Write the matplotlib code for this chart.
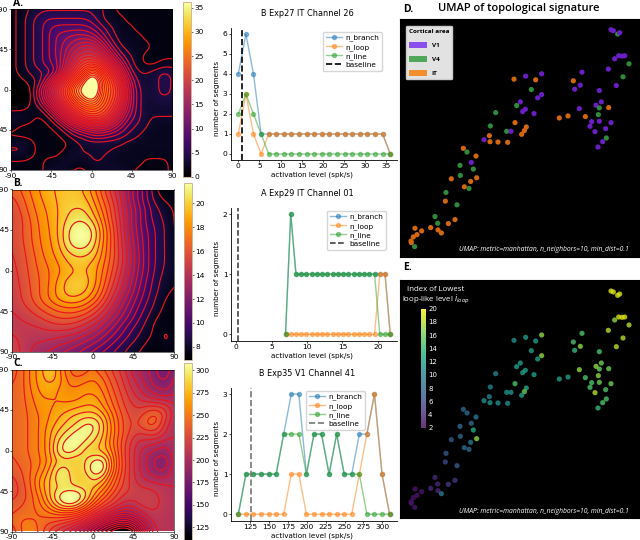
import matplotlib
matplotlib.use('Agg')
import matplotlib.pyplot as plt
import numpy as np
from matplotlib.patches import Patch

plt.rcParams['axes.unicode_minus'] = False

W, H = 640, 540

# heatmap tables, rows top to bottom (-90..90), columns left to right (-90..90)
grid_deg = [-90, -80, -70, -60, -50, -40, -30, -20, -10, 0, 10, 20, 30, 40, 50, 60, 70, 80, 90]
map_a = [
    [1, 2, 3, 4, 4, 4, 4, 4, 4, 4, 3, 2, 1, 1, 1, 1, 1, 1, 1],
    [1, 2, 4, 5, 6, 6, 6, 6, 6, 5, 3, 2, 2, 1, 1, 1, 1, 1, 1],
    [1, 2, 4, 5, 7, 8, 8, 8, 8, 7, 5, 3, 2, 2, 1, 1, 1, 1, 1],
    [1, 2, 4, 5, 7, 9, 10, 11, 11, 10, 7, 4, 2, 2, 2, 1, 1, 1, 1],
    [1, 2, 4, 5, 7, 9, 11, 13, 15, 15, 11, 6, 3, 2, 2, 2, 1, 1, 1],
    [1, 2, 4, 5, 7, 9, 12, 16, 18, 18, 15, 10, 5, 3, 2, 1, 1, 1, 1],
    [1, 2, 4, 5, 7, 8, 13, 18, 22, 23, 20, 15, 9, 4, 2, 1, 1, 2, 2],
    [1, 2, 3, 4, 4, 8, 16, 21, 27, 34, 27, 20, 14, 6, 3, 3, 4, 5, 4],
    [0, 1, 2, 3, 9, 16, 21, 27, 34, 42, 31, 24, 18, 9, 4, 3, 4, 5, 4],
    [-1, -1, 1, 6, 13, 19, 24, 33, 38, 42, 30, 25, 20, 10, 5, 3, 4, 5, 4],
    [-1, -1, 1, 5, 11, 17, 22, 28, 33, 36, 29, 24, 19, 10, 5, 3, 4, 4, 4],
    [1, 1, 2, 2, 6, 12, 18, 23, 27, 28, 26, 22, 16, 9, 5, 3, 3, 3, 3],
    [3, 3, 2, 1, 2, 6, 12, 17, 21, 23, 22, 18, 12, 7, 5, 3, 3, 3, 3],
    [2, 1, 1, 1, 1, 2, 5, 9, 11, 13, 13, 11, 8, 5, 4, 3, 2, 2, 2],
    [1, 1, 1, 1, 1, 1, 2, 4, 5, 7, 7, 6, 5, 4, 3, 2, 2, 2, 2],
    [3, 3, 2, 1, 1, 1, 1, 2, 3, 3, 3, 3, 3, 2, 2, 2, 2, 2, 2],
    [3, 3, 2, 1, 1, 1, 2, 3, 3, 3, 3, 3, 2, 2, 2, 2, 2, 2, 2],
    [1, 1, 1, 1, 2, 2, 3, 2, 2, 3, 3, 2, 2, 2, 2, 1, 1, 1, 2],
    [1, 1, 1, 1, 2, 3, 2, 1, 1, 2, 2, 3, 3, 2, 1, 1, 1, 1, 2],
]
map_b = [
    [16.5, 17.2, 18, 18.7, 19.2, 19.5, 19.8, 19.7, 19.2, 18, 16.5, 15, 13.5, 12, 10.5, 9, 7.5, 7.2, 7.2],
    [16, 16.8, 17.7, 18.5, 19, 19.5, 19.8, 19.8, 19.6, 18.5, 17, 15.5, 14, 12, 10.5, 9, 8, 7.5, 7.3],
    [15.7, 16.5, 17.5, 18.3, 18.8, 19.4, 20, 20.2, 20.1, 19, 17.5, 16, 14, 12.5, 11, 9.5, 8.5, 8, 7.5],
    [15.5, 16.2, 17.2, 18.1, 18.7, 19.4, 20.2, 20.7, 20.6, 19.6, 18, 16, 14.5, 12.5, 11, 9.5, 8.7, 8.2, 7.5],
    [15.5, 16.2, 17, 18, 18.6, 19.4, 20.7, 21.4, 21.4, 20.5, 18.5, 16.5, 14.5, 12.5, 11, 9.7, 9, 8.3, 7.5],
    [15.5, 16.2, 17, 17.9, 18.5, 19.4, 20.9, 21.7, 21.8, 20.8, 18.7, 16.7, 14.7, 12.8, 11.2, 10, 9, 8.3, 7.6],
    [15.5, 16.1, 16.9, 17.8, 18.4, 19.2, 20.7, 21.4, 21.3, 20.3, 18.5, 16.7, 14.8, 13, 11.3, 10, 9, 8.3, 7.7],
    [15.4, 16, 16.7, 17.6, 18.3, 18.9, 19.9, 20.4, 20.4, 19.8, 18.3, 16.7, 15, 13.2, 11.5, 10, 9, 8.3, 7.8],
    [15.3, 15.9, 16.6, 17.4, 18, 18.6, 19.3, 19.7, 19.6, 19.1, 18, 16.5, 15, 13.2, 11.5, 10, 9, 8.3, 7.8],
    [15.2, 15.8, 16.5, 17.2, 17.8, 18.4, 19, 19.4, 19.4, 18.9, 17.7, 16.2, 14.6, 13, 11.3, 10, 8.8, 8.2, 7.8],
    [15.1, 15.7, 16.4, 17.1, 17.8, 18.8, 19.6, 19.9, 19.7, 19, 17.4, 15.8, 14.2, 12.6, 11, 9.7, 8.6, 8, 7.7],
    [15, 15.6, 16.3, 17.1, 17.9, 19, 19.7, 19.9, 19.6, 18.6, 17, 15.2, 13.8, 12.2, 10.7, 9.5, 8.5, 7.8, 7.6],
    [15, 15.5, 16.2, 17.1, 17.9, 18.8, 19.3, 19.3, 18.8, 17.8, 16.2, 14.5, 13, 11.6, 10.3, 9.2, 8.2, 7.6, 7.4],
    [14.8, 15.2, 15.7, 16.4, 17, 17.5, 17.8, 17.8, 17.3, 16.3, 15, 13.7, 12.3, 11, 9.8, 8.8, 8, 7.4, 7.2],
    [14.5, 14.8, 15.1, 15.5, 16, 16.4, 16.5, 16.3, 15.8, 15, 14, 12.8, 11.6, 10.5, 9.3, 8.4, 7.6, 7.3, 7.2],
    [14.5, 14.5, 14.6, 14.8, 15.1, 15.3, 15.3, 15, 14.4, 13.7, 12.8, 11.8, 10.7, 9.6, 8.8, 8, 7.3, 7.5, 7.2],
    [14.7, 14.5, 14.3, 14.3, 14.3, 14.2, 14, 13.7, 13.2, 12.6, 11.8, 10.9, 10, 9.1, 8.4, 7.8, 7.4, 8, 7.2],
    [15, 14.5, 14, 13.8, 13.6, 13.3, 13, 12.6, 12.1, 11.5, 10.8, 10, 9.2, 8.5, 8, 7.5, 7.2, 7.8, 7.2],
    [15.3, 14.5, 13.8, 13.3, 12.9, 12.5, 12, 11.6, 11, 10.4, 9.8, 9.2, 8.6, 8, 7.6, 7.2, 7, 7.3, 7.2],
]
map_c = [
    [235, 245, 260, 270, 285, 270, 250, 240, 245, 250, 240, 230, 220, 205, 195, 190, 178, 172, 190],
    [238, 245, 260, 270, 278, 272, 255, 250, 255, 258, 250, 235, 225, 210, 200, 190, 180, 178, 192],
    [240, 245, 258, 268, 270, 265, 258, 258, 262, 262, 255, 240, 228, 215, 205, 195, 188, 185, 195],
    [240, 245, 255, 265, 265, 265, 262, 262, 268, 268, 260, 245, 232, 220, 212, 205, 200, 198, 200],
    [240, 245, 252, 262, 264, 266, 268, 272, 275, 275, 265, 250, 235, 225, 220, 225, 225, 220, 205],
    [240, 245, 250, 258, 265, 272, 280, 285, 288, 288, 278, 258, 240, 228, 228, 240, 245, 225, 205],
    [240, 245, 250, 258, 268, 278, 285, 292, 303, 303, 285, 262, 242, 230, 232, 245, 240, 215, 205],
    [240, 245, 250, 258, 272, 285, 295, 305, 306, 298, 283, 262, 242, 228, 220, 225, 225, 210, 205],
    [240, 245, 250, 258, 272, 294, 306, 308, 298, 288, 278, 258, 238, 222, 210, 208, 205, 200, 205],
    [240, 245, 250, 258, 272, 297, 306, 298, 285, 282, 280, 265, 238, 220, 205, 198, 192, 190, 205],
    [238, 243, 248, 255, 268, 283, 285, 282, 290, 305, 305, 272, 240, 220, 205, 193, 183, 182, 205],
    [235, 240, 248, 258, 275, 296, 294, 282, 292, 310, 306, 270, 240, 220, 205, 195, 185, 186, 205],
    [228, 238, 250, 268, 282, 298, 296, 282, 283, 295, 285, 258, 235, 220, 208, 202, 198, 198, 205],
    [225, 235, 248, 268, 283, 290, 292, 292, 288, 282, 268, 248, 230, 222, 215, 215, 212, 208, 205],
    [228, 235, 245, 260, 282, 303, 315, 313, 296, 272, 252, 235, 222, 218, 218, 218, 215, 210, 205],
    [235, 240, 245, 255, 270, 290, 300, 295, 275, 250, 232, 222, 210, 205, 215, 218, 215, 210, 205],
    [240, 245, 245, 248, 252, 255, 255, 250, 235, 218, 205, 190, 180, 182, 195, 210, 212, 208, 205],
    [240, 252, 252, 245, 238, 232, 225, 215, 200, 180, 162, 145, 135, 140, 165, 195, 210, 208, 205],
    [232, 250, 258, 245, 228, 215, 205, 190, 170, 145, 125, 108, 95, 100, 140, 185, 208, 208, 205],
]

# segment counts per activation level
level_a = [0, 1.8, 3.6, 5.4, 7.2, 9, 10.8, 12.6, 14.4, 16.2, 18, 19.8, 21.6, 23.4, 25.2, 27, 28.8, 30.6, 32.4, 34.2, 36]
branch_a = [4, 6, 4, 1, 1, 1, 1, 1, 1, 1, 1, 1, 1, 1, 1, 1, 1, 1, 1, 1, 0]
loop_a = [1, 3, 1, 0, 1, 1, 1, 1, 1, 1, 1, 1, 1, 1, 1, 1, 1, 1, 1, 1, 0]
line_a = [2, 3, 2, 1, 0, 0, 0, 0, 0, 0, 0, 0, 0, 0, 0, 0, 0, 0, 0, 0, 0]
base_a = 0.9

level_b = [6.95, 7.69, 8.43, 9.17, 9.91, 10.65, 11.39, 12.13, 12.87, 13.61, 14.35, 15.09, 15.83, 16.57, 17.31, 18.05, 18.79, 19.53, 20.27, 21.01, 21.75]
branch_b = [0, 2, 1, 1, 1, 1, 1, 1, 1, 1, 1, 1, 1, 1, 1, 1, 1, 1, 1, 1, 0]
loop_b = [0, 0, 0, 0, 0, 0, 0, 0, 0, 0, 0, 0, 0, 0, 0, 0, 0, 0, 1, 1, 0]
line_b = [0, 2, 1, 1, 1, 1, 1, 1, 1, 1, 1, 1, 1, 1, 1, 1, 1, 1, 0, 0, 0]
base_b = 0.2

level_c = [109.6, 119.6, 129.6, 139.6, 149.6, 159.6, 169.6, 179.6, 189.6, 199.6, 209.6, 219.6, 229.6, 239.6, 249.6, 259.6, 269.6, 279.6, 289.6, 299.6, 309.6]
branch_c = [0, 1, 1, 1, 1, 1, 2, 3, 3, 1, 2, 2, 1, 2, 1, 1, 2, 2, 3, 1, 0]
loop_c = [0, 0, 0, 0, 0, 0, 0, 1, 1, 0, 0, 0, 0, 0, 0, 0, 1, 2, 3, 1, 0]
line_c = [0, 1, 1, 1, 1, 1, 2, 2, 2, 1, 2, 2, 1, 2, 1, 1, 1, 0, 0, 0, 0]
base_c = 126

# umap embedding, shared by panels D and E
umap_x = [633, 640, 653, 659, 656, 666, 674, 644, 687, 625, 669, 649, 546, 520, 541, 524, 598,
          604, 588, 598, 626, 538, 556, 595, 478, 504, 575, 570, 598, 633, 617, 585, 619, 608, 594,
          342, 377, 407, 425, 394, 425, 413, 361, 350, 376, 368, 402, 287, 345, 271, 379, 373, 365,
          320, 333, 268, 252, 270, 294, 323,
          190, 201, 228, 214, 180, 220, 181, 154, 230, 212, 193, 207, 138, 136, 171, 105, 113, 165,
          145, 92, 45, 65, 114, 124, 51, 40, 33, 34, 44]
umap_y = [90, 93, 103, 99, 168, 169, 168, 177, 192, 208, 231, 257, 217, 243, 256, 268, 272,
          306, 316, 324, 323, 326, 350, 344, 354, 348, 365, 379, 364, 368, 386, 395, 414, 425, 441,
          238, 229, 240, 222, 269, 284, 294, 306, 317, 328, 335, 341, 338, 368, 378, 381, 392, 403,
          394, 394, 407, 419, 425, 426, 427,
          445, 456, 468, 487, 496, 507, 526, 536, 533, 544, 560, 565, 577, 603, 614, 649, 669, 658,
          670, 682, 684, 692, 689, 698, 703, 710, 722, 727, 739]
area = ['V1', 'V1', 'V4', 'V1', 'V1', 'V1', 'V1', 'V1', 'V4', 'V1', 'V4', 'V1', 'V1', 'IT', 'V1', 'V1', 'V1',
        'V1', 'V1', 'V4', 'IT', 'V1', 'IT', 'V4', 'IT', 'IT', 'V1', 'V1', 'V1', 'V1', 'V1', 'V1', 'V4', 'V1', 'V1',
        'IT', 'V1', 'IT', 'V1', 'V4', 'V1', 'V1', 'V1', 'V4', 'V1', 'V1', 'V1', 'V4', 'IT', 'V4', 'IT', 'IT', 'IT',
        'V4', 'V1', 'IT', 'V1', 'IT', 'IT', 'IT',
        'IT', 'V4', 'IT', 'V1', 'V4', 'V4', 'V4', 'IT', 'IT', 'IT', 'IT', 'V4', 'V4', 'IT', 'V4', 'V4', 'V4', 'IT',
        'IT', 'IT', 'IT', 'IT', 'IT', 'IT', 'IT', 'IT', 'IT', 'IT', 'V4']
i_loop = [19, 19, 19, 19, 19, 19, 19, 17, 18, 18, 18, 18, 15, 15, 17, 14, 15,
          16, 17, 16, 16, 17, 15, 17, 12, 12, 15, 15, 16, 16, 15, 18, 15, 15, 14,
          11, 12, 12, 17, 12, 17, 12, 12, 12, 12, 12, 12, 10, 15, 10, 13, 16, 12,
          11, 11, 10, 11, 11, 11, 11,
          8, 8, 9, 8, 8, 13, 8, 7, 17, 9, 8, 8, 7, 6, 7, 4, 4, 5,
          5, 4, 3, 3, 4, 9, 3, 3, 3, 3, 3]

area_colors = {'V1': '#6a1fc4', 'V4': '#2f8a3c', 'IT': '#d2670f'}
legend_colors = {'V1': '#8b4ff0', 'V4': '#4fa85a', 'IT': '#f28e2b'}


def px_axes(x0, y0, x1, y1):
    return fig.add_axes([x0 / W, 1 - y1 / H, (x1 - x0) / W, (y1 - y0) / H])


def soften(values, k=10):
    # blow each table cell up to k x k and box filter, so the contours come out round
    z = np.kron(np.array(values, float), np.ones((k, k)))
    pad = 2 * k
    z = np.pad(z, pad, mode='edge')
    box = np.ones(k) / k
    for _ in range(3):
        z = np.apply_along_axis(np.convolve, 0, z, box, mode='same')
        z = np.apply_along_axis(np.convolve, 1, z, box, mode='same')
    return z[pad:-pad, pad:-pad]


def heatmap(box, cbox, values, vmin, vmax, nlev, cticks):
    ax = px_axes(*box)
    z = soften(values)
    step = grid_deg[1] - grid_deg[0]
    lo, hi = grid_deg[0] - step / 2, grid_deg[-1] + step / 2
    pos = np.linspace(lo, hi, z.shape[0], endpoint=False) + (hi - lo) / z.shape[0] / 2
    im = ax.imshow(z, extent=(lo, hi, hi, lo), cmap='inferno', vmin=vmin, vmax=vmax, interpolation='bilinear')
    ax.contour(pos, pos, z, levels=np.linspace(vmin, vmax, nlev + 2)[1:-1], colors='#e8151b', linewidths=0.85)
    ax.set_xlim(-90, 90)
    ax.set_ylim(90, -90)
    ax.set_xticks([-90, -45, 0, 45, 90])
    ax.set_yticks([-90, -45, 0, 45, 90])
    ax.tick_params(labelsize=5.4, length=1.2, width=0.4, pad=0.8)
    for s in ax.spines.values():
        s.set_linewidth(0.4)
    cax = px_axes(*cbox)
    cb = fig.colorbar(im, cax=cax)
    cb.set_ticks(cticks)
    cb.ax.tick_params(labelsize=5.4, length=1.2, width=0.4, pad=1)
    cb.outline.set_edgecolor('#c8a98a')
    cb.outline.set_linewidth(0.6)
    return ax


def seglines(box, x, branch, loop, line, base, xlim, ylim, xticks, yticks, title, base_c, base_lw, leg_box):
    ax = px_axes(*box)
    ax.plot(x, branch, '-o', lw=1.0, ms=2.9, alpha=0.5, label='n_branch')
    ax.plot(x, loop, '-o', lw=1.0, ms=2.9, alpha=0.5, label='n_loop')
    ax.plot(x, line, '-o', lw=1.0, ms=2.9, alpha=0.5, label='n_line')
    ax.axvline(base, color=base_c, ls='--', lw=base_lw, label='baseline')
    ax.set_xlim(*xlim)
    ax.set_ylim(*ylim)
    ax.set_xticks(xticks)
    ax.set_yticks(yticks)
    ax.tick_params(labelsize=5.4, length=1.5, width=0.5, pad=1)
    ax.spines['top'].set_visible(False)
    ax.spines['right'].set_visible(False)
    for s in ax.spines.values():
        s.set_linewidth(0.6)
    ax.set_xlabel('activation level (spk/s)', fontsize=5.2)
    ax.set_ylabel('number of segments', fontsize=5.2)
    ax.xaxis.set_label_coords(0.485, -0.085)
    ax.yaxis.set_label_coords(-0.065, 0.47)
    fig.text(307 / W, 1 - (box[1] - 14) / H, title, fontsize=5.9, ha='center', va='center', fontweight='medium')
    ax.legend(loc='upper left', bbox_to_anchor=((leg_box[0] - box[0]) / (box[2] - box[0]), 1 - (leg_box[1] - box[1]) / (box[3] - box[1])),
              fontsize=5.3, borderaxespad=0, borderpad=0.35, labelspacing=0.3, handlelength=2.2, handletextpad=0.5)
    return ax


fig = plt.figure(figsize=(W / 100, H / 100), dpi=100)

heatmap((11, 9, 172, 170), (183, 2, 191, 177), map_a, 0, 36.2, 24, [0, 5, 10, 15, 20, 25, 30, 35])
heatmap((12, 189, 174, 352), (184, 183, 192, 360), map_b, 6.9, 21.7, 18, [8, 10, 12, 14, 16, 18, 20])
heatmap((12, 369, 174, 532), (184, 363, 192, 540), map_c, 111, 308, 22, [125, 150, 175, 200, 225, 250, 275, 300])

seglines((231, 28, 397, 160), level_a, branch_a, loop_a, line_a, base_a, (-1.73, 37.6), (-0.3, 6.3),
         [0, 5, 10, 15, 20, 25, 30, 35], [0, 1, 2, 3, 4, 5, 6], 'B Exp27 IT Channel 26', 'black', 1.2, (323, 32))
seglines((231, 208, 397, 341), level_b, branch_b, loop_b, line_b, base_b, (-0.75, 22.7), (-0.11, 2.1),
         [0, 5, 10, 15, 20], [0, 1, 2], 'A Exp29 IT Channel 01', '#333333', 1.1, (327, 211))
seglines((231, 388, 397, 521), level_c, branch_c, loop_c, line_c, base_c, (99.9, 319.4), (-0.17, 3.15),
         [125, 150, 175, 200, 225, 250, 275, 300], [0, 1, 2, 3], 'B Exp35 V1 Channel 41', '#777777', 1.2, (306, 391))

# panel letters
for s, x, y in [('A.', 13, 3), ('B.', 13, 184), ('C.', 13, 364), ('D.', 403, 9), ('E.', 403, 268)]:
    fig.text(x / W, 1 - y / H, s, fontsize=7.5, fontweight='bold', family='Open Sans', ha='left', va='center')
fig.text(519 / W, 1 - 9 / H, 'UMAP of topological signature', fontsize=8, fontweight='semibold',
         family='Open Sans', ha='center', va='center')

note = 'UMAP: metric=manhattan, n_neighbors=10, min_dist=0.1'

# panel D, scatter by cortical area
axd = px_axes(400, 19, 640, 257)
axd.set_facecolor('black')
axd.scatter(umap_x, umap_y, s=14, c=[area_colors[a] for a in area], linewidths=0)
axd.set_xlim(0, 720)
axd.set_ylim(770, 58)
axd.set_xticks([])
axd.set_yticks([])
axd.text(0.955, 0.018, note, transform=axd.transAxes, color='white', fontsize=4.9, style='italic',
         family='Open Sans', ha='right', va='bottom')
handles = [Patch(facecolor=legend_colors[k], label=k) for k in ['V1', 'V4', 'IT']]
leg = axd.legend(handles=handles, title='Cortical area', loc='upper left', bbox_to_anchor=(0.023, 0.971),
                 borderaxespad=0, facecolor='#e2e2e2', framealpha=1, alignment='left',
                 edgecolor='#cccccc', fancybox=True, labelspacing=1.25, handlelength=2.8, handleheight=1.0,
                 borderpad=0.5, prop={'family': 'Open Sans', 'weight': 'bold', 'size': 4.6})
leg.get_title().set_fontweight('bold')
leg.get_title().set_family('Open Sans')
leg.get_title().set_fontsize(4.6)

# panel E, scatter by lowest loop level
axe = px_axes(400, 280, 640, 518)
axe.set_facecolor('black')
sc = axe.scatter(umap_x, umap_y, s=14, c=i_loop, cmap='viridis', vmin=2, vmax=20, alpha=0.8, linewidths=0)
axe.set_xlim(0, 720)
axe.set_ylim(771, 57)
axe.set_xticks([])
axe.set_yticks([])
axe.text(0.955, 0.012, note, transform=axe.transAxes, color='white', fontsize=4.9, style='italic',
         family='Open Sans', ha='right', va='bottom')
axe.text(0.148, 0.975, 'Index of Lowest\nloop-like level $i_{loop}$', transform=axe.transAxes, color='white',
         fontsize=5.7, family='Open Sans', ha='center', va='top', linespacing=1.0)
cax = px_axes(420.7, 308.7, 426, 428)
cb = fig.colorbar(sc, cax=cax)
cb.set_ticks([2, 4, 6, 8, 10, 12, 14, 16, 18, 20])
cb.ax.tick_params(labelsize=5, length=0, pad=1.5, colors='white')
cb.outline.set_visible(False)

fig.savefig('out.png', dpi=100)
